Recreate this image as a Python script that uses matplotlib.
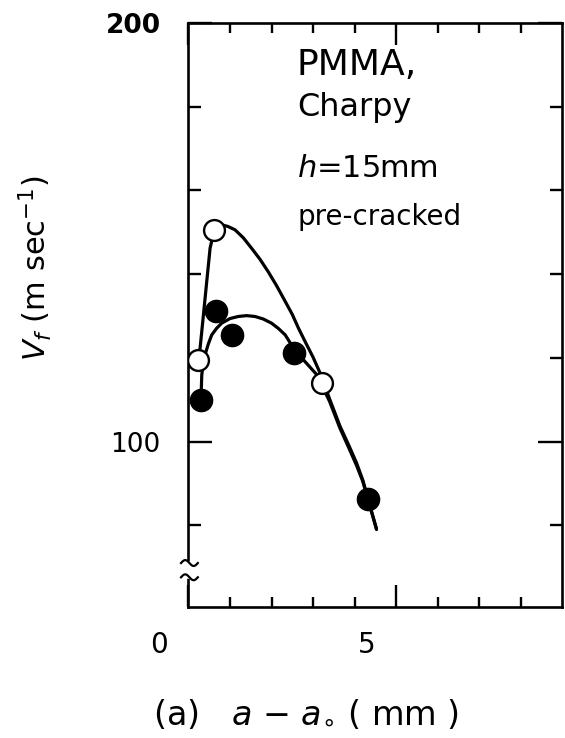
import numpy as np
import matplotlib
matplotlib.use('Agg')
import matplotlib.pyplot as plt
import matplotlib.transforms as mtransforms

# --- data
open_x = [0.22, 0.62, 3.21]
open_y = [119.6, 150.6, 114.0]
filled_x = [0.30, 0.66, 1.04, 2.55, 4.33]
filled_y = [110.0, 131.1, 125.5, 121.2, 86.2]

# hand drawn fit curves
open_curve_x = [0.22, 0.28, 0.36, 0.44, 0.52, 0.62, 0.72, 0.80, 0.95, 1.12, 1.32, 1.52,
                1.72, 1.92, 2.12, 2.33, 2.50, 2.65, 2.81, 3.00, 3.17, 3.40, 3.65,
                3.85, 4.05, 4.20, 4.33, 4.53]
open_curve_y = [119.6, 122.4, 130.3, 138.3, 146.2, 150.6, 151.6, 151.8, 151.4, 150.6, 148.7, 146.2,
                143.6, 140.6, 137.3, 133.5, 130.4, 127.1, 123.9, 120.2, 116.4, 110.2, 103.7,
                99.4, 94.9, 90.8, 86.2, 79.0]
filled_curve_x = [0.30, 0.32, 0.36, 0.40, 0.48, 0.56, 0.68, 0.80, 1.00, 1.20, 1.40, 1.60,
                  1.80, 2.00, 2.17, 2.33, 2.45, 2.57, 2.80, 3.09, 3.40, 3.65, 3.85, 4.05,
                  4.20, 4.33, 4.53]
filled_curve_y = [110.0, 116.0, 118.8, 120.8, 123.4, 125.5, 127.1, 128.3, 129.4, 129.9, 130.1, 129.9,
                  129.3, 128.3, 127.0, 125.5, 123.6, 121.6, 119.2, 116.0, 109.6, 103.2, 98.8, 94.3,
                  90.5, 86.0, 79.2]

x_major = [0, 5]
x_major_labels = ['0', '5']
x_minor = [1, 2, 3, 4, 6, 7, 8]
y_major = [100, 200]
y_major_labels = ['100', '200']
y_minor = [80, 120, 140, 160, 180]

W, H = 565, 738
fig = plt.figure(figsize=(W / 100, H / 100), dpi=100)
ax = fig.add_axes([188.5 / W, 1 - 607 / H, (562 - 188.5) / W, (607 - 23) / H])

ax.plot(open_curve_x, open_curve_y, color='k', lw=2.3, solid_capstyle='round',
        solid_joinstyle='round', zorder=2)
ax.plot(filled_curve_x, filled_curve_y, color='k', lw=2.3, solid_capstyle='round',
        solid_joinstyle='round', zorder=2)
ax.plot(open_x, open_y, 'o', ms=15, mfc='white', mec='k', mew=1.7, zorder=3)
ax.plot(filled_x, filled_y, 'o', ms=16, mfc='k', mec='k', zorder=3)

ax.set_xlim(0, 9)
ax.set_ylim(60.5, 200)

for s in ax.spines.values():
    s.set_linewidth(1.9)

ax.set_xticks(x_major, x_major_labels)
ax.set_xticks(x_minor, minor=True)
ax.set_yticks(y_major, y_major_labels)
ax.set_yticks(y_minor, minor=True)
ax.tick_params(which='both', direction='in', top=True, right=True, width=1.7)
ax.tick_params(axis='x', which='major', length=16, pad=17, labelsize=20)
ax.tick_params(axis='x', which='minor', length=7)
ax.tick_params(axis='y', which='major', length=17, pad=20, labelsize=19)
ax.tick_params(axis='y', which='minor', length=9)

# the x labels sit left of their ticks in the original
shift = mtransforms.ScaledTranslation(-0.29, 0, fig.dpi_scale_trans)
for lab in ax.get_xticklabels():
    lab.set_transform(lab.get_transform() + shift)
for lab in ax.get_yticklabels():
    if lab.get_text() == '200':
        lab.set_fontweight('bold')

# axis break on the left spine
tr = ax.get_yaxis_transform()
ax.plot([0, 0], [67.9, 70.7], color='white', lw=4, transform=tr, clip_on=False, zorder=5)
t = np.linspace(0, 1, 30)
for yb in [71.0, 67.6]:
    ax.plot(-0.02 + 0.045 * t, yb + 0.7 * np.sin(2 * np.pi * t), color='k', lw=1.6,
            transform=tr, clip_on=False, zorder=6)

# annotation block
fig.text(297 / W, 1 - 75 / H, 'PMMA,', fontsize=26, va='baseline')
fig.text(297 / W, 1 - 116 / H, 'Charpy', fontsize=23, va='baseline')
fig.text(297 / W, 1 - 177 / H, r'$h$=15mm', fontsize=22, va='baseline')
fig.text(298 / W, 1 - 225 / H, 'pre-cracked', fontsize=20, va='baseline')

fig.text(35 / W, 1 - 268 / H, r'$V_f$ (m sec$^{-1}$)', fontsize=22, rotation=90,
         ha='center', va='center')
fig.text(306 / W, 1 - 715 / H, r'(a)   $a$ $-$ $a_{\circ}$ ( mm )', fontsize=24,
         ha='center', va='center')

fig.savefig('out.png', dpi=100)
